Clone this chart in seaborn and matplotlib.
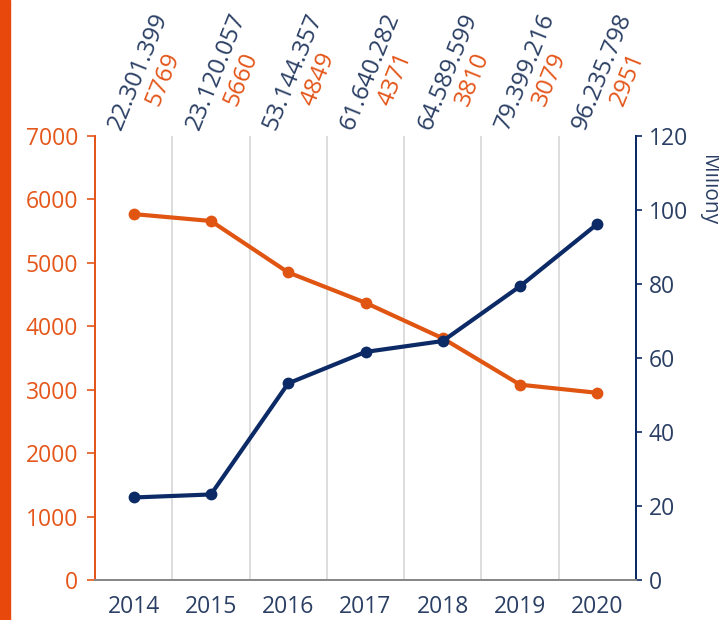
import matplotlib
matplotlib.use("Agg")
import matplotlib.pyplot as plt
import matplotlib.transforms as mtransforms
import seaborn as sns
import pandas as pd
import numpy as np

# ---- data ----
years = [2014, 2015, 2016, 2017, 2018, 2019, 2020]
count_values = [5769, 5660, 4849, 4371, 3810, 3079, 2951]
amount_millions = [22.301399, 23.120057, 53.144357, 61.640282, 64.589599, 79.399216, 96.235798]
amount_labels = ["22.301.399", "23.120.057", "53.144.357", "61.640.282",
                 "64.589.599", "79.399.216", "96.235.798"]
count_labels = ["5769", "5660", "4849", "4371", "3810", "3079", "2951"]
left_ticks = [0, 1000, 2000, 3000, 4000, 5000, 6000, 7000]
right_ticks = [0, 20, 40, 60, 80, 100, 120]
right_axis_title = "Miliony"

ORANGE = "#E4561A"
ORANGE_LINE = "#E05512"
NAVY = "#0C2A66"
NAVY_TEXT = "#2B3F64"
BAR = "#E8480C"

sns.set_style("white")
plt.rcParams["font.family"] = ["Open Sans", "DejaVu Sans"]

df = pd.DataFrame({"year": years, "count": count_values, "amount": amount_millions})

fig = plt.figure(figsize=(7.19, 6.2), dpi=100)
ax = fig.add_axes([95 / 719, 1 - 580 / 620, (636 - 95) / 719, (580 - 136) / 620])
ax2 = ax.twinx()

sns.lineplot(data=df, x="year", y="count", ax=ax, color=ORANGE_LINE, linewidth=3,
             marker="o", markersize=8.5, markeredgewidth=0, zorder=3)
sns.lineplot(data=df, x="year", y="amount", ax=ax2, color=NAVY, linewidth=3,
             marker="o", markersize=8.5, markeredgewidth=0, zorder=3)

ax.set_xlim(years[0] - 0.5, years[-1] + 0.5)
ax.set_ylim(left_ticks[0], left_ticks[-1])
ax2.set_ylim(right_ticks[0], right_ticks[-1])
ax.set_yticks(left_ticks)
ax2.set_yticks(right_ticks)

bounds = [y - 0.5 for y in years] + [years[-1] + 0.5]
ax.set_xticks(bounds)
ax.set_xticklabels([])
ax.set_xticks(years, minor=True)
ax.set_xticklabels([str(y) for y in years], minor=True)
ax.tick_params(axis="x", which="major", length=6, width=1.2, color="#888888", direction="out")
ax.tick_params(axis="x", which="minor", length=0, pad=11, labelsize=16.5, labelcolor=NAVY_TEXT)
ax.tick_params(axis="y", length=6, width=1.2, color=ORANGE, labelcolor=ORANGE, labelsize=16.5, pad=6)
ax2.tick_params(axis="y", length=4, width=1.2, color=NAVY, labelcolor=NAVY_TEXT, labelsize=16.5, pad=5)

ax.xaxis.grid(True, which="major", color="#DADADA", linewidth=1.3)
ax.yaxis.grid(False)
ax.set_axisbelow(True)

ax.set_xlabel("")
ax.set_ylabel("")
ax2.set_ylabel("")

for a in (ax, ax2):
    a.spines["top"].set_visible(False)
    a.spines["left"].set_color(ORANGE)
    a.spines["left"].set_linewidth(1.4)
    a.spines["right"].set_color(NAVY)
    a.spines["right"].set_linewidth(1.4)
    a.spines["bottom"].set_color("#888888")
    a.spines["bottom"].set_linewidth(1.4)

# rotated value annotations above the plot
rot = 68
for yr, al, cl in zip(years, amount_labels, count_labels):
    t1 = mtransforms.offset_copy(ax.get_xaxis_transform(), fig=fig, x=5, y=65, units="dots")
    ax.text(yr, 1.0, al, transform=t1, rotation=rot, rotation_mode="anchor",
            ha="center", va="center", fontsize=17.5, color=NAVY_TEXT, clip_on=False)
    t2 = mtransforms.offset_copy(ax.get_xaxis_transform(), fig=fig, x=30, y=57, units="dots")
    ax.text(yr, 1.0, cl, transform=t2, rotation=rot, rotation_mode="anchor",
            ha="center", va="center", fontsize=17.5, color=ORANGE, clip_on=False)

fig.text(708 / 719, 1 - 190 / 620, right_axis_title, rotation=270, ha="center", va="center",
         fontsize=15, color=NAVY_TEXT)

# orange bar at left edge
fig.patches.append(plt.Rectangle((0, 0), 10 / 719, 1, transform=fig.transFigure,
                                 color=BAR, zorder=0))

fig.savefig("out.png", dpi=100)
